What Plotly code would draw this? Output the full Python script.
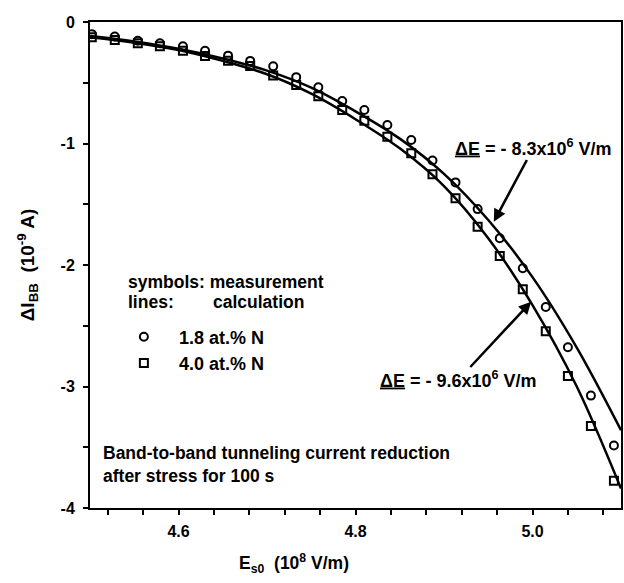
import plotly.graph_objects as go

# ---- data ----
x_meas = [4.502, 4.528, 4.554, 4.579, 4.605, 4.630, 4.656, 4.681, 4.707, 4.733,
          4.758, 4.785, 4.810, 4.836, 4.863, 4.887, 4.913, 4.938, 4.963, 4.989,
          5.015, 5.040, 5.066, 5.092]
y_18N = [-0.10, -0.12, -0.154, -0.175, -0.20, -0.236, -0.277, -0.32, -0.365, -0.454,
         -0.538, -0.65, -0.724, -0.848, -0.971, -1.14, -1.32, -1.54, -1.78, -2.027,
         -2.345, -2.677, -3.075, -3.485]
y_40N = [-0.126, -0.148, -0.175, -0.20, -0.236, -0.28, -0.318, -0.362, -0.44, -0.518,
         -0.612, -0.724, -0.812, -0.944, -1.08, -1.254, -1.45, -1.685, -1.926, -2.20,
         -2.545, -2.914, -3.325, -3.775]

x_calc = [4.50, 4.55, 4.60, 4.65, 4.70, 4.75, 4.80, 4.85, 4.90, 4.95, 5.00, 5.05, 5.10]
y_calc_18N = [-0.115, -0.16, -0.22, -0.30, -0.40, -0.54, -0.735, -0.96, -1.25, -1.63, -2.10, -2.68, -3.36]
y_calc_40N = [-0.125, -0.17, -0.23, -0.32, -0.43, -0.59, -0.80, -1.04, -1.35, -1.78, -2.33, -3.00, -3.84]

x_tickvals = [4.6, 4.8, 5.0]
x_ticktext = ["4.6", "4.8", "5.0"]
x_minorvals = [4.52, 4.56, 4.60, 4.64, 4.68, 4.72, 4.76, 4.80, 4.84, 4.88, 4.92, 4.96, 5.00, 5.04, 5.08]
y_tickvals = [0, -1, -2, -3, -4]
y_ticktext = ["0", "-1", "-2", "-3", "-4"]
y_minorvals = [-0.5, -1.5, -2.5, -3.5]

FONT = "Liberation Sans, Arial, Helvetica, sans-serif"

fig = go.Figure()

fig.add_trace(go.Scatter(x=x_calc, y=y_calc_18N, mode="lines",
                         line=dict(color="black", width=2.5, shape="spline", smoothing=1.0),
                         showlegend=False, hoverinfo="skip"))
fig.add_trace(go.Scatter(x=x_calc, y=y_calc_40N, mode="lines",
                         line=dict(color="black", width=2.5, shape="spline", smoothing=1.0),
                         showlegend=False, hoverinfo="skip"))
fig.add_trace(go.Scatter(x=x_meas, y=y_18N, mode="markers", name="\u00a0\u00a0\u00a01.8 at.% N",
                         marker=dict(symbol="circle-open", size=8, color="black",
                                     line=dict(width=2, color="black"))))
fig.add_trace(go.Scatter(x=x_meas, y=y_40N, mode="markers", name="\u00a0\u00a0\u00a04.0 at.% N",
                         marker=dict(symbol="square-open", size=8, color="black",
                                     line=dict(width=2, color="black"))))

axis_common = dict(showline=True, linecolor="black", linewidth=2, mirror=True,
                   ticks="outside", ticklen=5, tickwidth=1.5, tickcolor="black",
                   showgrid=False, zeroline=False,
                   tickfont=dict(family=FONT, size=16, color="black", weight="bold"))

fig.update_xaxes(range=[4.5, 5.1], tickmode="array", tickvals=x_tickvals, ticktext=x_ticktext,
                 ticklabelstandoff=3,
                 minor=dict(tickmode="array", tickvals=x_minorvals, ticks="outside",
                            ticklen=5, tickwidth=1.5, tickcolor="black", showgrid=False),
                 **axis_common)
fig.update_yaxes(range=[-4, 0], tickmode="array", tickvals=y_tickvals, ticktext=y_ticktext,
                 ticklabelstandoff=5,
                 minor=dict(tickmode="array", tickvals=y_minorvals, ticks="outside",
                            ticklen=5, tickwidth=1.5, tickcolor="black", showgrid=False),
                 title=dict(text="<b>ΔI<sub>BB</sub>  (10<sup>-9</sup> A)</b>",
                            font=dict(family=FONT, size=19, color="black"), standoff=21),
                 **axis_common)

ann_font = dict(family=FONT, size=18, color="black")
body = dict(family=FONT, size=17.5, color="black")


def px_x(px):
    return (px - 90) / 533


def px_y(py):
    return (508 - py) / 486


annotations = [
    dict(text="<b>E<sub>s0</sub>  (10<sup>8</sup> V/m)</b>", xref="paper", yref="paper",
         x=px_x(295), y=px_y(563), xanchor="center", yanchor="middle", showarrow=False,
         font=dict(family=FONT, size=17.5, color="black")),
    dict(text="<b><u>ΔE</u> = - 8.3x10<sup>6</sup> V/m</b>", x=4.9563, y=-1.6436,
         ax=40, ay=-74.7, axref="pixel", ayref="pixel", xanchor="center", yanchor="middle",
         showarrow=True, arrowhead=2, arrowsize=1, arrowwidth=2.5, arrowcolor="black",
         standoff=0, font=ann_font),
    dict(text="<b><u>ΔE</u> = - 9.6x10<sup>6</sup> V/m</b>", x=4.9985, y=-2.302,
         ax=-73, ay=78.3, axref="pixel", ayref="pixel", xanchor="center", yanchor="middle",
         showarrow=True, arrowhead=2, arrowsize=1, arrowwidth=2.5, arrowcolor="black",
         standoff=0, font=ann_font),
    dict(text="<b>symbols: measurement</b>", xref="paper", yref="paper",
         x=px_x(126), y=px_y(282), xanchor="left", yanchor="middle", showarrow=False, font=body),
    dict(text="<b>lines:</b>", xref="paper", yref="paper",
         x=px_x(126), y=px_y(302), xanchor="left", yanchor="middle", showarrow=False, font=body),
    dict(text="<b>calculation</b>", xref="paper", yref="paper",
         x=px_x(211), y=px_y(302), xanchor="left", yanchor="middle", showarrow=False, font=body),
    dict(text="<b>Band-to-band tunneling current reduction<br>after stress for 100 s</b>",
         xref="paper", yref="paper", x=px_x(101), y=px_y(464),
         xanchor="left", yanchor="middle", align="left", showarrow=False, font=body),
]

fig.update_layout(
    width=624, height=583,
    margin=dict(l=90, r=1, t=22, b=75),
    paper_bgcolor="white", plot_bgcolor="white",
    font=dict(family=FONT, color="black"),
    showlegend=True,
    legend=dict(x=px_x(124), y=px_y(318.5), xanchor="left", yanchor="top",
                bgcolor="rgba(0,0,0,0)", borderwidth=0,
                font=dict(family=FONT, size=18, color="black", weight="bold")),
    annotations=annotations,
)

# remove the default page margin so the 624x583 figure fills the window exactly
fig.write_html("out.html",
               config={"displayModeBar": False},
               post_script="document.body.style.margin='0';document.body.style.overflow='hidden';")
